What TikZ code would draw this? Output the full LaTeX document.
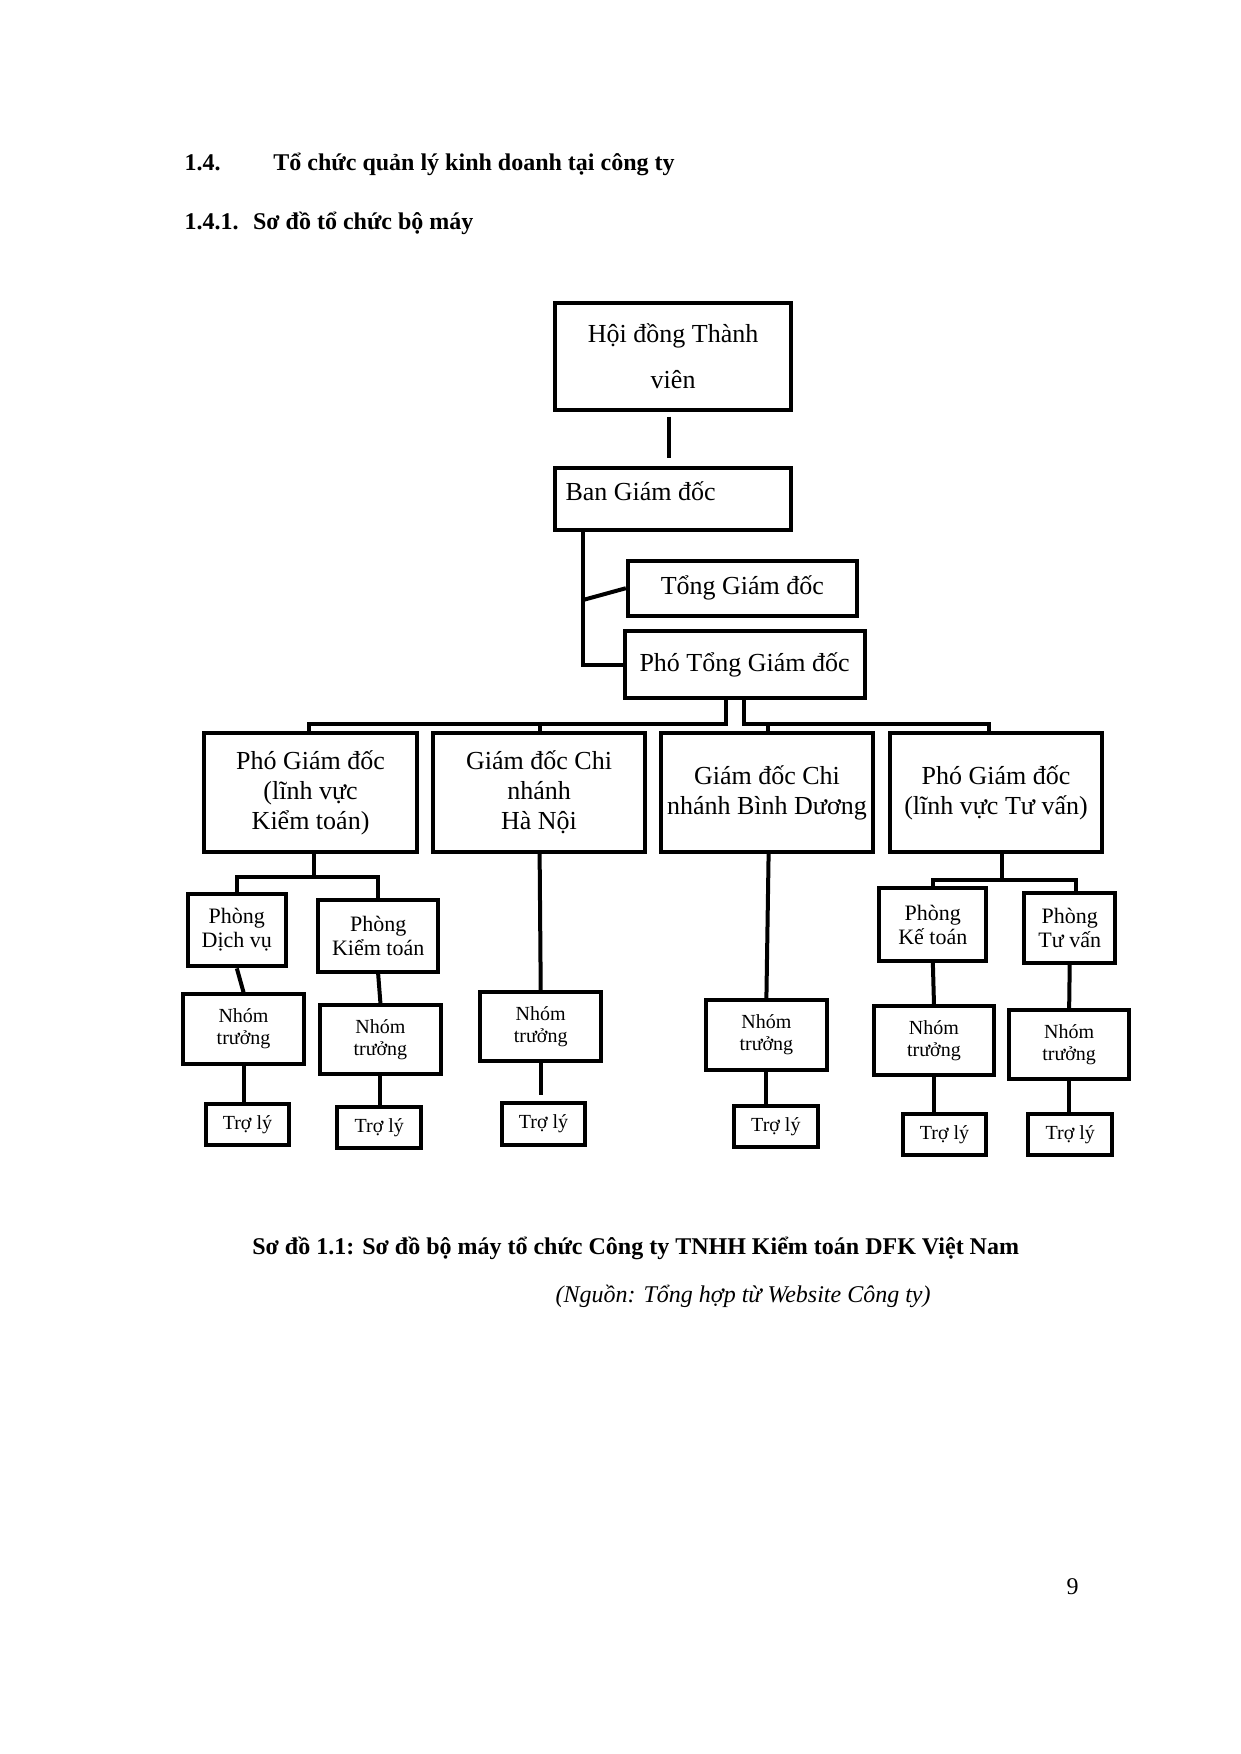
\documentclass[tikz,border=0pt]{standalone}
\usepackage{fontspec}
\setmainfont{Liberation Serif}
\begin{document}
\begin{tikzpicture}[x=0.5586pt,y=-0.5586pt,
  bx/.style={draw,line width=2pt,inner sep=0pt,align=center},
  ln/.style={line width=2pt},
  big/.style={font=\fontsize{13}{15}\selectfont},
  sm/.style={font=\fontsize{11}{12}\selectfont},
  xs/.style={font=\fontsize{10}{11}\selectfont}]
\useasboundingbox (0,0) rectangle (1110,1570);
\node[anchor=west,font=\bfseries\fontsize{12}{14}\selectfont] (h1) at (159,147) {1.4.\hspace{2.2em}Tổ chức quản lý kinh doanh tại công ty};
\node[anchor=west,font=\bfseries\fontsize{12}{14}\selectfont] (h2) at (159,200) {1.4.1.\hspace{0.6em}Sơ đồ tổ chức bộ máy};
% level 0
\node[bx,big,minimum width=211pt*0.5586,minimum height=96pt*0.5586,font=\fontsize{13}{23}\selectfont] (hd) at (602.5,319) {Hội đồng Thành\\viên};
\node[bx,big,minimum width=211*0.5586pt,minimum height=55*0.5586pt,text depth=8pt] (ban) at (602.5,446.5) {\hspace*{-2.5em}Ban Giám đốc};
\node[bx,big,minimum width=205*0.5586pt,minimum height=49*0.5586pt] (tgd) at (664.5,526.5) {Tổng Giám đốc};
\node[bx,big,minimum width=215*0.5586pt,minimum height=60*0.5586pt] (ptgd) at (666.5,595) {Phó Tổng Giám đốc};
\draw[ln] (599,373) -- (599,410);
\draw[ln] (522,474) -- (522,595) -- (ptgd.west);
\draw[ln] (522,537) -- (tgd.west);
% level 2
\foreach \n/\x/\t in {pkt/278/{Phó Giám đốc\\(lĩnh vực\\Kiểm toán)}, hn/482.5/{Giám đốc Chi\\nhánh\\Hà Nội}, bd/686.5/{Giám đốc Chi\\nhánh Bình Dương}, ptv/891.5/{Phó Giám đốc\\(lĩnh vực Tư vấn)}}
  \node[bx,big,minimum width=190*0.5586pt,minimum height=107*0.5586pt] (\n) at (\x,709.5) {\t};
\draw[ln] (650,625) -- (650,648) -- (277,648) -- (277,656);
\draw[ln] (483,648) -- (483,656);
\draw[ln] (666,625) -- (666,648) -- (885,648) -- (885,656);
\draw[ln] (687,648) -- (687,656);
% level 3 phong
\node[bx,sm,minimum width=88*0.5586pt,minimum height=65*0.5586pt] (pdv) at (212,832.5) {Phòng\\Dịch vụ};
\node[bx,sm,minimum width=107*0.5586pt,minimum height=64*0.5586pt] (pkto) at (338.5,838) {Phòng\\Kiểm toán};
\node[bx,sm,minimum width=96*0.5586pt,minimum height=65*0.5586pt] (pke) at (835,827.5) {Phòng\\Kế toán};
\node[bx,sm,minimum width=81*0.5586pt,minimum height=63*0.5586pt] (ptu) at (957.5,830.5) {Phòng\\Tư vấn};
\draw[ln] (281,763) -- (281,785) -- (212,785) -- (pdv.north);
\draw[ln] (281,785) -- (338,785) -- (338,806);
\draw[ln] (897,763) -- (897,788) -- (835,788) -- (pke.north);
\draw[ln] (897,788) -- (963,788) -- (963,799);
% nhom truong
\foreach \n/\x/\y in {n1/218/921, n2/340.5/930.5, n3/484/919, n4/686/926.5, n5/836/931.5, n6/957/935}
  \node[bx,xs,minimum width=108*0.5586pt,minimum height=62*0.5586pt] (\n) at (\x,\y) {Nhóm\\trưởng};
\foreach \n/\x/\y in {t1/221.5/1006.5, t2/339.5/1009, t3/486.5/1006, t4/694.5/1008.5, t5/845.5/1015.5, t6/958/1015.5}
  \node[bx,xs,minimum width=75*0.5586pt,minimum height=37*0.5586pt] (\n) at (\x,\y) {Trợ lý};
\draw[ln] (pdv.south) -- (n1.north);
\draw[ln] (pkto.south) -- (n2.north);
\draw[ln] (483,763) -- (n3.north);
\draw[ln] (688,763) -- (n4.north);
\draw[ln] (pke.south) -- (n5.north);
\draw[ln] (ptu.south) -- (n6.north);
\draw[ln] (n1.south -| 218,0) -- (218,988);
\draw[ln] (n2.south) -- (n2.south |- t2.north);
\draw[ln] (n3.south) -- (484,980);
\draw[ln] (n4.south) -- (n4.south |- t4.north);
\draw[ln] (n5.south) -- (n5.south |- t5.north);
\draw[ln] (n6.south) -- (n6.south |- t6.north);
% captions
\node[font=\bfseries\fontsize{12}{14}\selectfont] (cap) at (569,1117) {Sơ đồ 1.1: Sơ đồ bộ máy tổ chức Công ty TNHH Kiểm toán DFK Việt Nam};
\node[anchor=west,font=\itshape\fontsize{12}{14}\selectfont] (src) at (491,1160) {(Nguồn: Tổng hợp từ Website Công ty)};
\node[font=\fontsize{12}{14}\selectfont] (pg) at (960,1420) {9};
\end{tikzpicture}
\end{document}
